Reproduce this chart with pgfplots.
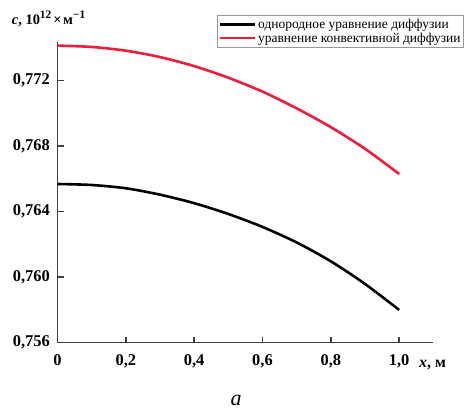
\documentclass[border=0pt]{standalone}
\usepackage{fontspec}
\setmainfont{Liberation Serif}
\usepackage{pgfplots}
\pgfplotsset{compat=1.18}
\definecolor{curvered}{HTML}{EE1D3C}
\definecolor{axisgray}{HTML}{404040}
\newcommand{\upidx}[1]{\raisebox{6.5bp}{\fontsize{11.5}{11.5}\selectfont #1}}

\begin{document}
\begin{tikzpicture}
\useasboundingbox (-57.5bp,-68.3bp) rectangle (408.5bp,342.7bp);
\begin{axis}[
  at={(0,0)}, anchor=south west,
  scale only axis, width=375.8bp, height=301bp,
  xmin=0, xmax=1.1, ymin=0.756, ymax=0.77438,
  clip=false,
  axis x line=bottom, axis y line=left,
  axis line style={-, line width=1.4bp, axisgray},
  tick style={line width=1.4bp, axisgray},
  tick align=inside, major tick length=6bp,
  xtick={0,0.2,0.4,0.6,0.8,1.0},
  xticklabels={0,{0,2},{0,4},{0,6},{0,8},{1,0}},
  ytick={0.756,0.760,0.764,0.768,0.772},
  yticklabels={{0,756},{0,760},{0,764},{0,768},{0,772}},
  scaled y ticks=false,
  tick label style={font=\fontsize{16.5}{16.5}\bfseries\selectfont, inner sep=0pt},
  xticklabel style={anchor=north, yshift=-12bp},
  yticklabel style={anchor=east, xshift=-7.5bp},
  legend style={at={(rel axis cs:1,1)}, anchor=north east, xshift=30.7bp, yshift=26.7bp,
    draw=gray!80, line width=0.8bp, font=\fontsize{13.5}{13.5}\selectfont,
    inner xsep=1bp, inner ysep=1.5bp, row sep=-1bp,
    /tikz/every even column/.append style={column sep=2bp}},
  legend cell align=left,
  legend image code/.code={\draw[#1] (0bp,0bp) -- (35bp,0bp);},
]
\addplot[black, line width=2.6bp, smooth] coordinates {
  (0.0,0.76569) (0.1,0.76563) (0.2,0.76543) (0.3,0.76504) (0.4,0.76452)
  (0.5,0.76386) (0.6,0.76307) (0.7,0.76212) (0.8,0.76097) (0.9,0.75959)
  (1.0,0.75800)};
\addplot[curvered, line width=2.6bp, smooth] coordinates {
  (0.0,0.77414) (0.1,0.77406) (0.2,0.77383) (0.3,0.77344) (0.4,0.77289)
  (0.5,0.77218) (0.6,0.77133) (0.7,0.77031) (0.8,0.76916) (0.9,0.76784)
  (1.0,0.76630)};
\legend{однородное уравнение диффузии, уравнение конвективной диффузии}

\node[anchor=base west, inner sep=0pt, font=\fontsize{14.5}{14.5}\bfseries\selectfont,
  xshift=-45.8bp, yshift=16.7bp] at (rel axis cs:0,1)
  {\textit{c}, 10\upidx{12}\hspace{2bp}×\hspace{1.5bp}м\upidx{−1}};
\node[anchor=base west, inner sep=0pt, font=\fontsize{16}{16}\bfseries\selectfont,
  xshift=361.5bp, yshift=-24.6bp] at (rel axis cs:0,0) {\textit{x}, м};
\node[anchor=base, inner sep=0pt, font=\fontsize{22}{22}\itshape\selectfont,
  xshift=178.5bp, yshift=-62.3bp] at (rel axis cs:0,0) {а};
\end{axis}
\end{tikzpicture}
\end{document}
